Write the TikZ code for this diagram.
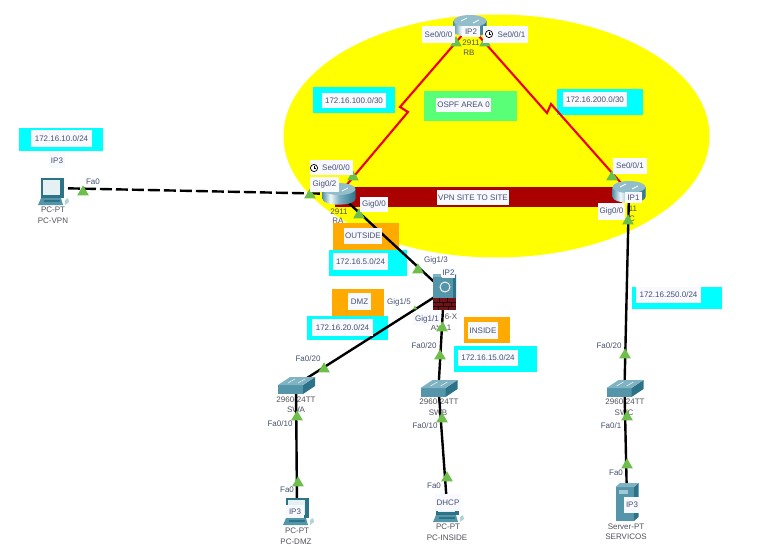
\documentclass[tikz,border=0pt]{standalone}
\usepackage{fontspec}
\setmainfont{Liberation Sans}
\usepackage{xcolor}
\usetikzlibrary{shapes.geometric}

\definecolor{zonecyan}{HTML}{00FFFF}
\definecolor{zoneyellow}{HTML}{FFFF00}
\definecolor{zonegreen}{HTML}{5AFF78}
\definecolor{zoneorange}{HTML}{FFAA00}
\definecolor{vpnred}{HTML}{AA0000}
\definecolor{serialred}{HTML}{F00000}
\definecolor{portgreen}{HTML}{6DBE4B}
\definecolor{tagwhite}{HTML}{F8F9FF}
\definecolor{tagtext}{HTML}{46506E}
\definecolor{devtext}{HTML}{50525A}
\definecolor{tealtop}{HTML}{7FB2C2}
\definecolor{tealfront}{HTML}{5595AA}
\definecolor{tealside}{HTML}{2C7388}
\definecolor{brick}{HTML}{701218}

\pgfdeclarehorizontalshading{routerbody}{100bp}{
  color(0bp)=(tealfront); color(25bp)=(tealfront); color(37bp)=(white!90!tealtop);
  color(50bp)=(tealtop); color(75bp)=(tealside); color(100bp)=(tealside)}

\tikzset{
  routericon/.pic={
    \shade[shading=routerbody] (-16.5,-5) -- (-16.5,5)
      .. controls (-16.5,12.5) and (16.5,12.5) .. (16.5,5) -- (16.5,-5) -- cycle;
    \fill[tealtop!85!white] (0,-5) ellipse[x radius=16.5,y radius=6];
    \draw[white,line width=.8] (-9,-5) -- (-3,-8) (3,-3) -- (9,-6);
  },
  switchicon/.pic={
    \fill[tealfront] (-18,0) -- (7,0) -- (7,9) -- (-18,9) -- cycle;
    \fill[tealside] (7,0) -- (19,-8) -- (19,1) -- (7,9) -- cycle;
    \fill[tealtop] (-18,0) -- (-6,-8) -- (19,-8) -- (7,0) -- cycle;
    \draw[white!80!tealtop,line width=.6] (-8,-2) -- (-1,-6) (2,-2) -- (9,-6);
  },
  pcicon/.pic={
    \fill[tealside] (-11,-10) -- (12,-10) -- (12,10) -- (-11,10) -- cycle;
    \fill[white!80!tealtop] (-9,-8) rectangle (8,7);
    \fill[tealfront] (-11,10) -- (9,10) -- (11,17) -- (-14,17) -- cycle;
    \fill[tealside] (-8,12) rectangle (8,14);
    \fill[tealtop!60!white] (13,12) -- (16,10) -- (17,14) -- (13,17) -- cycle;
  },
  servericon/.pic={
    \fill[tealfront] (-11.5,-15) rectangle (7,19);
    \fill[tealside] (7,-15) -- (11.5,-19) -- (11.5,15) -- (7,19) -- cycle;
    \fill[tealtop] (-11.5,-15) -- (-7,-19) -- (11.5,-19) -- (7,-15) -- cycle;
    \fill[tealtop!70!white] (-8,-12) rectangle (1,-8);
  },
  asaicon/.pic={
    \fill[tealfront] (-11,-14) rectangle (9,7);
    \fill[tealside] (9,-14) -- (12,-17) -- (12,7) -- (9,7) -- cycle;
    \fill[tealtop] (-11,-17) rectangle (-3,-14);
    \draw[white,line width=.9] (1,-4) circle[radius=5];
    \fill[brick] (-11,7) rectangle (12,19);
    \draw[black!70!brick,line width=.5] (-11,11) -- (12,11) (-11,15) -- (12,15)
      (-5,7) -- (-5,11) (3,7) -- (3,11) (-1,11) -- (-1,15) (7,11) -- (7,15)
      (-6,15) -- (-6,19) (4,15) -- (4,19);
  },
  clockicon/.pic={
    \draw[black,fill=white,line width=.7] (0,0) circle[radius=3.6];
    \draw[black,line width=.6] (0,-2.4) -- (0,0) -- (2,0);
  },
  zonetag/.style={fill=tagwhite, text=tagtext, inner sep=0pt},
  devname/.style={text=devtext, inner sep=0pt},
  porttext/.style={text=tagtext, inner sep=0pt},
  porttri/.style={shape=regular polygon, regular polygon sides=3, fill=portgreen,
    inner sep=0pt, minimum size=13.5},
  serial/.style={serialred, line width=2.1, line join=miter},
  ethernet/.style={black, line width=2.4},
  tunnel/.style={black, line width=2.4, dash pattern=on 12 off 4}
}

\begin{document}
\begin{tikzpicture}[x=1pt, y=-1pt, font=\fontsize{8}{9}\selectfont]
  \useasboundingbox (0,0) rectangle (783,551);

  % Area and zones
  \fill[zoneyellow] (496.5,136) ellipse[x radius=213,y radius=121.5];
  \fill[zonegreen] (424,91) rectangle (517,121);
  \fill[vpnred] (335,187) rectangle (622,206.5);
  \fill[zonecyan] (19,128) rectangle (103,151);
  \fill[zonecyan] (313,87) rectangle (395,113);
  \fill[zonecyan] (557,89) rectangle (643,115);
  \fill[zoneorange] (333,223) rectangle (399,250);
  \fill[zonecyan] (329,250) rectangle (407,276);
  \fill[zoneorange] (332,289) rectangle (384,317);
  \fill[zonecyan] (307,316) rectangle (388,340);
  \fill[zoneorange] (464,317) rectangle (510,343);
  \fill[zonecyan] (454,346) rectangle (537,372);
  \fill[zonecyan] (632,287) rectangle (722,309);

  % Device positions
  \coordinate (RB) at (470,26);
  \coordinate (RA) at (339,194);
  \coordinate (RC) at (629,192);
  \coordinate (ASA) at (444,291);
  \coordinate (SWA) at (296,385);
  \coordinate (SWB) at (438.5,388);
  \coordinate (SWC) at (624.5,388);
  \coordinate (PCVPN) at (52,188);
  \coordinate (PCDMZ) at (297,508);
  \coordinate (PCINSIDE) at (447,505);
  \coordinate (SERVER) at (627,502);
  \coordinate (zigAB) at (400,107);
  \coordinate (zigBA) at (408,112);
  \coordinate (zigBC) at (547,113);
  \coordinate (zigCB) at (551,104);

  % Device names
  \node[devname] (nameRB) at (471,43) {2911};
  \node[devname] (hostRB) at (469,53) {RB};
  \node[devname] (nameRA) at (339,212) {2911};
  \node[devname] (hostRA) at (338,221) {RA};
  \node[devname] (nameRC) at (633,209) {11};
  \node[devname] (hostRC) at (632,219) {C};
  \node[devname] (nameASA) at (451,317) {6-X};
  \node[devname] (hostASA) at (441,328) {ASA1};
  \node[devname] (nameSWA) at (296,400) {2960-24TT};
  \node[devname] (hostSWA) at (296,410) {SWA};
  \node[devname] (nameSWB) at (439,402) {2960-24TT};
  \node[devname] (hostSWB) at (438,413) {SWB};
  \node[devname] (nameSWC) at (625,402) {2960-24TT};
  \node[devname] (hostSWC) at (624,413) {SWC};
  \node[devname] (namePCVPN) at (53,210) {PC-PT};
  \node[devname] (hostPCVPN) at (53,221) {PC-VPN};
  \node[devname] (namePCDMZ) at (297,531) {PC-PT};
  \node[devname] (hostPCDMZ) at (296,542) {PC-DMZ};
  \node[devname] (namePCINSIDE) at (448,527) {PC-PT};
  \node[devname] (hostPCINSIDE) at (447,538) {PC-INSIDE};
  \node[devname] (nameSERVER) at (626,527) {Server-PT};
  \node[devname] (hostSERVER) at (626,537) {SERVICOS};

  % Links
  \draw[serial] (RB) -- (zigAB) -- (zigBA) -- (RA);
  \draw[serial] (RB) -- (zigBC) -- (zigCB) -- (RC);
  \draw[tunnel] (PCVPN) -- (RA);
  \draw[ethernet] (RA) -- (ASA);
  \draw[ethernet] (ASA) -- (SWA);
  \draw[ethernet] (ASA) -- (SWB);
  \draw[ethernet] (RC) -- (SWC);
  \draw[ethernet] (SWA) -- (PCDMZ);
  \draw[ethernet] (SWB) -- (PCINSIDE);
  \draw[ethernet] (SWC) -- (SERVER);

  % Device icons
  \pic at (RB) {routericon};
  \pic at (RA) {routericon};
  \pic at (RC) {routericon};
  \pic at (ASA) {asaicon};
  \pic at (SWA) {switchicon};
  \pic at (SWB) {switchicon};
  \pic at (SWC) {switchicon};
  \pic at (PCVPN) {pcicon};
  \pic at (PCDMZ) {pcicon};
  \pic at (PCINSIDE) {pcicon};
  \pic at (SERVER) {servericon};

  % Port marks
  \node[porttri] (portBa) at (456,43) {};
  \node[porttri] (portBc) at (485,43) {};
  \node[porttri] (portAb) at (353,177) {};
  \node[porttri] (portAvpn) at (310,195) {};
  \node[porttri] (portAasa) at (359,215) {};
  \node[porttri] (portCb) at (612,177) {};
  \node[porttri] (portCsw) at (628,221) {};
  \node[porttri] (portVpn) at (83,192) {};
  \node[porttri] (portAsaA) at (418,270) {};
  \node[porttri, minimum size=5] (portAsaD) at (415,308) {};
  \node[porttri] (portAsaI) at (442,328) {};
  \node[porttri] (portSwaUp) at (324,369) {};
  \node[porttri] (portSwbUp) at (440,356) {};
  \node[porttri] (portSwcUp) at (625,355) {};
  \node[porttri] (portSwaDn) at (297,417) {};
  \node[porttri] (portSwbDn) at (442,419) {};
  \node[porttri] (portSwcDn) at (627,417) {};
  \node[porttri] (portDmz) at (298,483) {};
  \node[porttri] (portInside) at (447,478) {};
  \node[porttri] (portServer) at (627,465) {};

  % Port labels
  \node[zonetag, minimum width=33, minimum height=17] (tagBa) at (438.5,34.5) {Se0/0/0};
  \node[zonetag, minimum width=45, minimum height=17] (tagBc) at (505.5,34.5) {\hspace{12pt}Se0/0/1};
  \node[zonetag, minimum width=43, minimum height=15] (tagAb) at (331.5,167.5) {\hspace{9pt}Se0/0/0};
  \node[zonetag, minimum width=29, minimum height=15] (tagAvpn) at (324.5,184.5) {Gig0/2};
  \node[zonetag, minimum width=28, minimum height=15] (tagAasa) at (374,204.5) {Gig0/0};
  \node[zonetag, minimum width=34, minimum height=16] (tagCb) at (630,166) {Se0/0/1};
  \node[zonetag, minimum width=27, minimum height=17] (tagCsw) at (611.5,211.5) {Gig0/0};
  \node[zonetag, minimum width=28, minimum height=12] (tagAsaI) at (427,319) {Gig1/1};
  \pic at (489,34) {clockicon};
  \pic at (314,168) {clockicon};
  \node[porttext] (txtVpn) at (93,182) {Fa0};
  \node[porttext] (txtAsaA) at (436,260) {Gig1/3};
  \node[porttext] (txtAsaD) at (399,302) {Gig1/5};
  \node[porttext] (txtSwaUp) at (308,359) {Fa0/20};
  \node[porttext] (txtSwbUp) at (424,346) {Fa0/20};
  \node[porttext] (txtSwcUp) at (609,346) {Fa0/20};
  \node[porttext] (txtSwaDn) at (280,424) {Fa0/10};
  \node[porttext] (txtSwbDn) at (425,426) {Fa0/10};
  \node[porttext] (txtSwcDn) at (611,426) {Fa0/1};
  \node[porttext] (txtDmz) at (287,490) {Fa0};
  \node[porttext] (txtInside) at (434,486) {Fa0};
  \node[porttext] (txtServer) at (616,473) {Fa0};

  % Address and zone labels
  \node[zonetag, minimum width=61, minimum height=17] (netVpn) at (61.5,138.5) {172.16.10.0/24};
  \node[zonetag, minimum width=64, minimum height=15] (netAB) at (354,100.5) {172.16.100.0/30};
  \node[zonetag, minimum width=64, minimum height=15] (netBC) at (595,99.5) {172.16.200.0/30};
  \node[zonetag, minimum width=55, minimum height=14] (zoneOspf) at (463.5,105) {OSPF AREA 0};
  \node[zonetag, minimum width=72, minimum height=15] (zoneVpn) at (473,197.5) {VPN SITE TO SITE};
  \node[zonetag, minimum width=38, minimum height=16] (zoneOutside) at (363,236) {OUTSIDE};
  \node[zonetag, minimum width=55, minimum height=17] (netOutside) at (360.5,261.5) {172.16.5.0/24};
  \node[zonetag, minimum width=23, minimum height=17] (zoneDmz) at (359.5,301.5) {DMZ};
  \node[zonetag, minimum width=61, minimum height=17] (netDmz) at (342.5,327.5) {172.16.20.0/24};
  \node[zonetag, minimum width=30, minimum height=17] (zoneInside) at (483,330.5) {INSIDE};
  \node[zonetag, minimum width=60, minimum height=16] (netInside) at (488,358) {172.16.15.0/24};
  \node[zonetag, minimum width=65, minimum height=16] (netServer) at (668.5,295) {172.16.250.0/24};

  % Address tags on devices
  \node[zonetag, minimum width=16, minimum height=15] (ipVpn) at (57,160.5) {IP3};
  \node[zonetag, minimum width=18, minimum height=11] (ipRB) at (471,31.5) {IP2};
  \node[zonetag, minimum width=17, minimum height=11] (ipRC) at (633.5,197.5) {IP1};
  \node[zonetag, minimum width=13, minimum height=10] (ipAsa) at (448.5,273) {IP2};
  \node[zonetag, minimum width=18, minimum height=13] (ipDmz) at (295,511.5) {IP3};
  \node[zonetag, minimum width=26, minimum height=17] (ipInside) at (448,502.5) {DHCP};
  \node[zonetag, minimum width=16, minimum height=16] (ipServer) at (632,505) {IP3};
\end{tikzpicture}
\end{document}
